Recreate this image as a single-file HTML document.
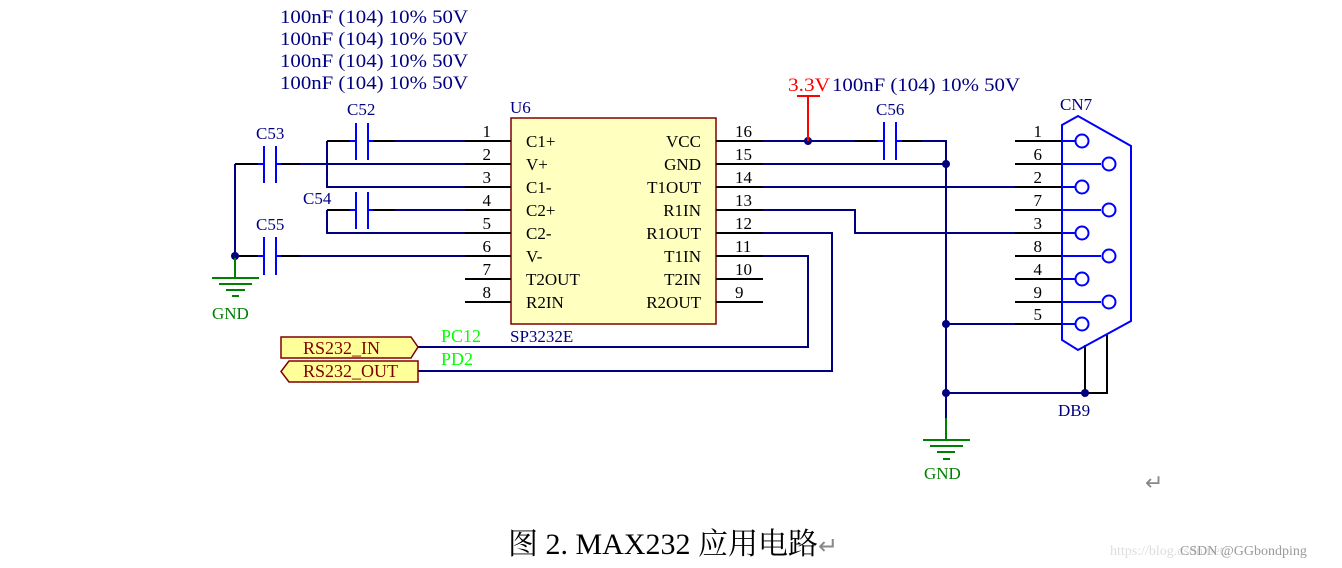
<!DOCTYPE html>
<html><head><meta charset="utf-8"><style>
html,body{margin:0;padding:0;background:#fff;}
svg{display:block;}
text{font-family:"Liberation Serif","Noto Serif CJK SC",serif;}
</style></head><body>
<svg width="1342" height="568" viewBox="0 0 1342 568" xmlns="http://www.w3.org/2000/svg">
<g font-size="19" fill="#000080">
<text x="280" y="23" textLength="188" lengthAdjust="spacingAndGlyphs">100nF (104) 10% 50V</text>
<text x="280" y="45" textLength="188" lengthAdjust="spacingAndGlyphs">100nF (104) 10% 50V</text>
<text x="280" y="67" textLength="188" lengthAdjust="spacingAndGlyphs">100nF (104) 10% 50V</text>
<text x="280" y="89" textLength="188" lengthAdjust="spacingAndGlyphs">100nF (104) 10% 50V</text>
<text x="832" y="91" textLength="188" lengthAdjust="spacingAndGlyphs">100nF (104) 10% 50V</text>
</g>
<text x="788" y="91" font-size="19" fill="#ff0000" textLength="42" lengthAdjust="spacingAndGlyphs">3.3V</text>
<rect x="511" y="118" width="205" height="206" fill="#ffffc0" stroke="#800000" stroke-width="1.5"/>
<g font-size="17" fill="#000080">
<text x="510" y="113">U6</text>
<text x="510" y="342">SP3232E</text>
<text x="347" y="115">C52</text>
<text x="256" y="139">C53</text>
<text x="303" y="204">C54</text>
<text x="256" y="230">C55</text>
<text x="876" y="115">C56</text>
<text x="1060" y="110">CN7</text>
<text x="1058" y="416">DB9</text>
</g>
<g font-size="17" fill="#000">
<text x="526" y="147">C1+</text><text x="526" y="170">V+</text><text x="526" y="193">C1-</text><text x="526" y="216">C2+</text>
<text x="526" y="239">C2-</text><text x="526" y="262">V-</text><text x="526" y="285">T2OUT</text><text x="526" y="308">R2IN</text>
<g text-anchor="end">
<text x="701" y="147">VCC</text><text x="701" y="170">GND</text><text x="701" y="193">T1OUT</text><text x="701" y="216">R1IN</text>
<text x="701" y="239">R1OUT</text><text x="701" y="262">T1IN</text><text x="701" y="285">T2IN</text><text x="701" y="308">R2OUT</text>
<text x="491" y="137">1</text><text x="491" y="160">2</text><text x="491" y="183">3</text><text x="491" y="206">4</text>
<text x="491" y="229">5</text><text x="491" y="252">6</text><text x="491" y="275">7</text><text x="491" y="298">8</text>
<text x="1042" y="137">1</text><text x="1042" y="160">6</text><text x="1042" y="183">2</text><text x="1042" y="206">7</text>
<text x="1042" y="229">3</text><text x="1042" y="252">8</text><text x="1042" y="275">4</text><text x="1042" y="298">9</text><text x="1042" y="320">5</text>
</g>
<text x="735" y="137">16</text><text x="735" y="160">15</text><text x="735" y="183">14</text><text x="735" y="206">13</text>
<text x="735" y="229">12</text><text x="735" y="252">11</text><text x="735" y="275">10</text><text x="735" y="298">9</text>
</g>
<g stroke="#000080" stroke-width="2" fill="none">
<path d="M395 141H465M300 164H465M327 141V187H465M395 210H465M327 210V233H465M300 256H465M235 164V256"/>
<path d="M763 141H855M922 141H946V418M763 164H946M763 187H1015M763 210H855V233H1015M763 233H832V371H418M763 256H808V347H418M946 324H1015M946 393H1085"/>
</g>
<g stroke="#000" stroke-width="2" fill="none">
<path d="M465 141H511M465 164H511M465 187H511M465 210H511M465 233H511M465 256H511M465 279H511M465 302H511"/>
<path d="M716 141H763M716 164H763M716 187H763M716 210H763M716 233H763M716 256H763M716 279H763M716 302H763"/>
<path d="M1015 141H1062M1015 164H1062M1015 187H1062M1015 210H1062M1015 233H1062M1015 256H1062M1015 279H1062M1015 302H1062M1015 324H1062"/>
<path d="M1085 345V393M1107 335V393H1085"/>
<path d="M235 164H258M281 164H300M327 141H350M373 141H395M327 210H350M373 210H395M235 256H258M281 256H300M855 141H878M902 141H922"/>
</g>
<g fill="#000080">
<circle cx="235" cy="256" r="4"/><circle cx="808" cy="141" r="4"/><circle cx="946" cy="164" r="4"/><circle cx="946" cy="324" r="4"/><circle cx="946" cy="393" r="4"/><circle cx="1085" cy="393" r="4"/>
</g>
<g stroke="#0000ff" stroke-width="2" fill="none">
<path d="M258 164H264M276 164H281M264 146V183M276 146V183"/>
<path d="M258 256H264M276 256H281M264 237V275M276 237V275"/>
<path d="M350 141H356M368 141H373M356 123V160M368 123V160"/>
<path d="M350 210H356M368 210H373M356 192V229M368 192V229"/>
<path d="M878 141H884M896 141H902M884 122V160M896 122V160"/>
</g>
<path d="M797 96H820M808 96V141" stroke="#ff0000" stroke-width="2" fill="none"/>
<g stroke="#008000" stroke-width="2" fill="none">
<path d="M235 258V278M212 278H259M219 284H252M226 290H245M232 296H239"/>
<path d="M946 418V440M923 440H970M930 446H963M937 452H955M943 459H950"/>
</g>
<g font-size="17" fill="#008000">
<text x="212" y="319">GND</text><text x="924" y="479">GND</text>
</g>
<g stroke="#0000ff" stroke-width="2" fill="none">
<path d="M1062 125L1078 116L1131 146V321L1078 350L1062 340Z"/>
<path d="M1062 141H1076M1062 164H1101M1062 187H1076M1062 210H1101M1062 233H1076M1062 256H1101M1062 279H1076M1062 302H1101M1062 324H1076"/>
<circle cx="1082" cy="141" r="6.5"/><circle cx="1109" cy="164" r="6.5"/><circle cx="1082" cy="187" r="6.5"/><circle cx="1109" cy="210" r="6.5"/>
<circle cx="1082" cy="233" r="6.5"/><circle cx="1109" cy="256" r="6.5"/><circle cx="1082" cy="279" r="6.5"/><circle cx="1109" cy="302" r="6.5"/><circle cx="1082" cy="324" r="6.5"/>
</g>
<g fill="#ffff99" stroke="#800000" stroke-width="1.5">
<path d="M281 337H411L418 347L411 358H281Z"/>
<path d="M289 361H418V382H289L281 371.5Z"/>
</g>
<g font-size="18" fill="#800000"><text x="303" y="354">RS232_IN</text><text x="303" y="377">RS232_OUT</text></g>
<g font-size="18" fill="#00ff00"><text x="441" y="342">PC12</text><text x="441" y="365">PD2</text></g>
<text x="1145" y="490" font-size="22" fill="#888">↵</text>
<text x="508" y="554" font-size="30" fill="#000">图 2. MAX232 应用电路<tspan fill="#888" font-size="24">↵</tspan></text>
<text x="1110" y="555" font-size="14" fill="#ddd" font-family="Liberation Sans,sans-serif">https://blog.csdn.net/</text>
<text x="1180" y="555" font-size="14" fill="#999" font-family="Liberation Sans,sans-serif">CSDN @GGbondping</text>
</svg>
</body></html>
